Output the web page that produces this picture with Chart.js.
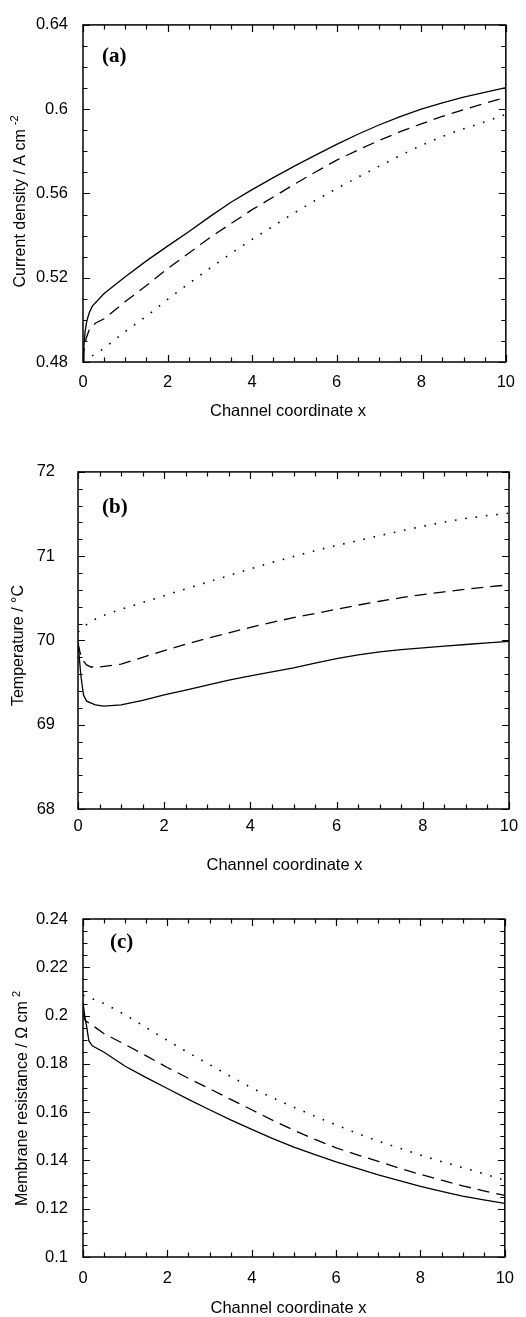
<!DOCTYPE html>
<html><head><meta charset="utf-8">
<script src="https://cdn.jsdelivr.net/npm/chart.js@4.4.1/dist/chart.umd.min.js"></script>
<style>
html,body{margin:0;padding:0;background:#fff;}
body{width:526px;height:1317px;position:relative;overflow:hidden;}
.panel{position:absolute;left:0;width:526px;}
canvas{display:block;}
</style></head><body>
<div class="panel" style="top:0;height:439px"><canvas id="ca" width="526" height="439"></canvas></div>
<div class="panel" style="top:439px;height:439px"><canvas id="cb" width="526" height="439"></canvas></div>
<div class="panel" style="top:878px;height:439px"><canvas id="cc" width="526" height="439"></canvas></div>
<script>
// ---------- data: panel (a) current density ----------
const xA_solid  = [0, 0.02, 0.05, 0.09, 0.15, 0.22, 0.5, 1, 1.5, 2, 2.5, 3, 3.5, 4, 4.5, 5, 5.5, 6, 6.5, 7, 7.5, 8, 8.5, 9, 9.5, 10];
const curSolid  = [0.481, 0.487, 0.4945, 0.4995, 0.5035, 0.5065, 0.5125, 0.5205, 0.528, 0.535, 0.5418, 0.549, 0.5558, 0.5618, 0.5675, 0.573, 0.5782, 0.5833, 0.5881, 0.5925, 0.5965, 0.6, 0.603, 0.6057, 0.608, 0.6102];
const xA_dashed = [0, 0.03, 0.08, 0.15, 0.3, 0.5, 1, 1.5, 2, 2.5, 3, 3.5, 4, 4.5, 5, 5.5, 6, 6.5, 7, 7.5, 8, 8.5, 9, 9.5, 10];
const curDashed = [0.481, 0.487, 0.4915, 0.4955, 0.4985, 0.5005, 0.5087, 0.5163, 0.5243, 0.5316, 0.539, 0.5457, 0.5523, 0.5583, 0.5644, 0.5702, 0.5758, 0.5806, 0.5851, 0.5893, 0.593, 0.5966, 0.5997, 0.6028, 0.6056];
const xA_dotted = [0, 0.25, 0.5, 1, 1.5, 2, 2.5, 3, 3.5, 4, 4.5, 5, 5.5, 6, 6.5, 7, 7.5, 8, 8.5, 9, 9.5, 10];
const curDotted = [0.4805, 0.4833, 0.4865, 0.4945, 0.5017, 0.5097, 0.5172, 0.5245, 0.5315, 0.5382, 0.5445, 0.5508, 0.5568, 0.5623, 0.5677, 0.5729, 0.578, 0.5828, 0.5871, 0.5907, 0.594, 0.5975];

// ---------- data: panel (b) temperature ----------
const xB_solid  = [0, 0.03, 0.06, 0.09, 0.13, 0.2, 0.4, 0.6, 1, 1.5, 2, 2.5, 3, 3.5, 4, 4.5, 5, 5.5, 6, 6.5, 7, 7.5, 8, 8.5, 9, 9.5, 10];
const tempSolid = [69.98, 69.8, 69.62, 69.49, 69.35, 69.28, 69.235, 69.22, 69.235, 69.29, 69.355, 69.41, 69.47, 69.528, 69.58, 69.628, 69.675, 69.73, 69.785, 69.83, 69.865, 69.89, 69.912, 69.932, 69.952, 69.971, 69.99];
const xB_dashed = [0, 0.05, 0.12, 0.2, 0.3, 0.5, 1, 1.5, 2, 2.5, 3, 3.5, 4, 4.5, 5, 5.5, 6, 6.5, 7, 7.5, 8, 8.5, 9, 9.5, 10];
const tempDashed = [69.97, 69.85, 69.76, 69.71, 69.685, 69.685, 69.72, 69.8, 69.88, 69.955, 70.025, 70.09, 70.155, 70.215, 70.27, 70.32, 70.37, 70.42, 70.465, 70.508, 70.545, 70.577, 70.607, 70.635, 70.66];
const xB_dotted = [0, 0.25, 0.5, 1, 1.5, 2, 2.5, 3, 3.5, 4, 4.5, 5, 5.5, 6, 6.5, 7, 7.5, 8, 8.5, 9, 9.5, 10];
const tempDotted = [70.1, 70.21, 70.28, 70.37, 70.45, 70.53, 70.613, 70.69, 70.77, 70.85, 70.925, 70.995, 71.065, 71.128, 71.185, 71.245, 71.3, 71.355, 71.405, 71.448, 71.482, 71.51];

// ---------- data: panel (c) membrane resistance ----------
const xC_solid  = [0, 0.04, 0.08, 0.14, 0.22, 0.5, 1, 1.5, 2, 2.5, 3, 3.5, 4, 4.5, 5, 5.5, 6, 6.5, 7, 7.5, 8, 8.5, 9, 9.5, 10];
const resSolid  = [0.2055, 0.2, 0.196, 0.1895, 0.1875, 0.1848, 0.179, 0.1743, 0.1698, 0.1653, 0.161, 0.1568, 0.1529, 0.149, 0.1455, 0.1424, 0.1394, 0.1367, 0.134, 0.1316, 0.1293, 0.1272, 0.1252, 0.1237, 0.1222];
const xC_dashed = [0, 0.05, 0.3, 0.5, 1, 1.5, 2, 2.5, 3, 3.5, 4, 4.5, 5, 5.5, 6, 6.5, 7, 7.5, 8, 8.5, 9, 9.5, 10];
const resDashed = [0.201, 0.198, 0.195, 0.1925, 0.188, 0.1833, 0.1785, 0.174, 0.1697, 0.1653, 0.161, 0.1566, 0.1525, 0.1487, 0.1452, 0.1423, 0.1396, 0.1368, 0.1342, 0.1318, 0.1295, 0.1274, 0.1255];
const xC_dotted = [0, 0.5, 1, 1.5, 2, 2.5, 3, 3.5, 4, 4.5, 5, 5.5, 6, 6.5, 7, 7.5, 8, 8.5, 9, 9.5, 10];
const resDotted = [0.2085, 0.205, 0.2003, 0.195, 0.1897, 0.1846, 0.1797, 0.1748, 0.17, 0.1659, 0.162, 0.1583, 0.1547, 0.1512, 0.148, 0.1451, 0.1422, 0.1395, 0.137, 0.1345, 0.1318];

// ---------- axis ranges / tick labels ----------
const xRange = [0, 10], xMinorStep = 0.5, xMajorStep = 2;
const yRangeA = [0.48, 0.64], yMinorA = 0.01, yMajorA = 0.04;
const yRangeB = [68, 72], yMinorB = 0.2, yMajorB = 1;
const yRangeC = [0.1, 0.24], yMinorC = 0.005, yMajorC = 0.02;
const xTitleText = 'Channel coordinate x';
const panelLabels = ['(a)', '(b)', '(c)'];
const yTitlesMain = ['Current density / A cm', 'Temperature / °C', 'Membrane resistance / Ω cm'];
const yTitlesSup = ['-2', '', '2'];

const FAM = "'Liberation Sans', Arial, Helvetica, sans-serif";
const pts = (xs, ys) => xs.map((x, i) => ({x, y: ys[i]}));
const isMajor = (v, step) => Math.abs(v / step - Math.round(v / step)) < 1e-6;
const fmt = v => String(parseFloat(v.toFixed(3)));

const framePlugin = {
  id: 'frame',
  afterDatasetsDraw(chart, args, o) {
    const {ctx, chartArea: a, scales: {x, y}} = chart;
    ctx.save();
    ctx.strokeStyle = '#000';
    ctx.lineWidth = 1.2;
    ctx.beginPath();
    x.ticks.forEach(t => {
      const p = Math.round(x.getPixelForValue(t.value)) + 0.5;
      const L = isMajor(t.value, o.xMajor) ? 7 : 4.5;
      ctx.moveTo(p, a.bottom); ctx.lineTo(p, a.bottom - L);
      ctx.moveTo(p, a.top); ctx.lineTo(p, a.top + L);
    });
    y.ticks.forEach(t => {
      const p = Math.round(y.getPixelForValue(t.value)) + 0.5;
      const L = isMajor(t.value, o.yMajor) ? 7 : 4.5;
      ctx.moveTo(a.left, p); ctx.lineTo(a.left + L, p);
      ctx.moveTo(a.right, p); ctx.lineTo(a.right - L, p);
    });
    ctx.stroke();
    ctx.lineWidth = 1.5;
    ctx.strokeRect(a.left, a.top, a.right - a.left, a.bottom - a.top);
    // panel label
    ctx.fillStyle = '#000';
    ctx.font = "bold 21px 'Liberation Serif', 'Times New Roman', serif";
    ctx.textAlign = 'left'; ctx.textBaseline = 'middle';
    ctx.fillText(o.label, a.left + o.labelDx, a.top + o.labelDy);
    // x title
    ctx.font = '16.5px ' + FAM;
    ctx.textAlign = 'center';
    ctx.fillText(xTitleText, o.xtX, o.xtY);
    // y title with optional superscript
    ctx.font = '16px ' + FAM;
    const wm = ctx.measureText(o.yMain).width;
    ctx.font = '11px ' + FAM;
    const ws = o.ySup ? ctx.measureText(o.ySup).width : 0;
    const gap = o.ySup ? 4 : 0;
    const total = wm + gap + ws;
    ctx.translate(o.ytX, o.ytY);
    ctx.rotate(-Math.PI / 2);
    ctx.textAlign = 'left';
    ctx.font = '16px ' + FAM;
    ctx.fillText(o.yMain, -total / 2, 0);
    if (o.ySup) {
      ctx.font = '11px ' + FAM;
      ctx.fillText(o.ySup, -total / 2 + wm + gap, -6);
    }
    ctx.restore();
  }
};

function makeChart(id, cfg) {
  const line = (data, kind) => ({
    data,
    borderColor: '#000',
    borderWidth: kind === 'dot' ? 1.6 : 1.3,
    borderDash: kind === 'dash' ? [12, 7] : kind === 'dot' ? [1.6, 8.8] : [],
    borderCapStyle: 'butt',
    pointRadius: 0,
    fill: false,
    tension: 0
  });
  return new Chart(document.getElementById(id), {
    type: 'line',
    data: {
      datasets: [
        line(cfg.solid, 'solid'),
        line(cfg.dashed, 'dash'),
        line(cfg.dotted, 'dot')
      ]
    },
    options: {
      responsive: false,
      animation: false,
      devicePixelRatio: 1,
      layout: {padding: cfg.pad},
      plugins: {
        legend: {display: false},
        tooltip: {enabled: false},
        frame: cfg.frame
      },
      scales: {
        x: {
          type: 'linear', min: xRange[0], max: xRange[1],
          afterFit: s => { s.height = cfg.xH; },
          grid: {display: false, drawTicks: false},
          border: {display: false},
          ticks: {
            stepSize: xMinorStep, autoSkip: false, maxRotation: 0,
            padding: cfg.xPad, color: '#000', font: {family: FAM, size: 16.5},
            callback: v => isMajor(v, xMajorStep) ? fmt(v) : ''
          }
        },
        y: {
          type: 'linear', min: cfg.yRange[0], max: cfg.yRange[1],
          afterFit: s => { s.width = cfg.yW; },
          grid: {display: false, drawTicks: false},
          border: {display: false},
          ticks: {
            stepSize: cfg.yMinor, autoSkip: false,
            padding: cfg.yPad, color: '#000', font: {family: FAM, size: 16.5},
            callback: v => isMajor(v, cfg.yMajor) ? fmt(v) : ''
          }
        }
      }
    },
    plugins: [framePlugin]
  });
}

makeChart('ca', {
  solid: pts(xA_solid, curSolid), dashed: pts(xA_dashed, curDashed), dotted: pts(xA_dotted, curDotted),
  yRange: yRangeA, yMinor: yMinorA, yMajor: yMajorA,
  pad: {left: 0, right: 14, top: 15, bottom: 0}, xH: 77, yW: 83, xPad: 11, yPad: 15,
  frame: {xMajor: xMajorStep, yMajor: yMajorA, label: panelLabels[0], labelDx: 19, labelDy: 32,
          xtX: 288, xtY: 411.5, yMain: yTitlesMain[0], ySup: yTitlesSup[0], ytX: 21, ytY: 201.5}
});
makeChart('cb', {
  solid: pts(xB_solid, tempSolid), dashed: pts(xB_dashed, tempDashed), dotted: pts(xB_dotted, tempDotted),
  yRange: yRangeB, yMinor: yMinorB, yMajor: yMajorB,
  pad: {left: 0, right: 17, top: 24, bottom: 0}, xH: 69, yW: 78, xPad: 7.5, yPad: 23,
  frame: {xMajor: xMajorStep, yMajor: yMajorB, label: panelLabels[1], labelDx: 24, labelDy: 36,
          xtX: 284.5, xtY: 426, yMain: yTitlesMain[1], ySup: yTitlesSup[1], ytX: 19, ytY: 206.5}
});
makeChart('cc', {
  solid: pts(xC_solid, resSolid), dashed: pts(xC_dashed, resDashed), dotted: pts(xC_dotted, resDotted),
  yRange: yRangeC, yMinor: yMinorC, yMajor: yMajorC,
  pad: {left: 0, right: 13, top: 41, bottom: 0}, xH: 60, yW: 83, xPad: 12, yPad: 15,
  frame: {xMajor: xMajorStep, yMajor: yMajorC, label: panelLabels[2], labelDx: 27, labelDy: 24,
          xtX: 288.5, xtY: 430.5, yMain: yTitlesMain[2], ySup: yTitlesSup[2], ytX: 23, ytY: 220.5}
});
</script>
</body></html>
